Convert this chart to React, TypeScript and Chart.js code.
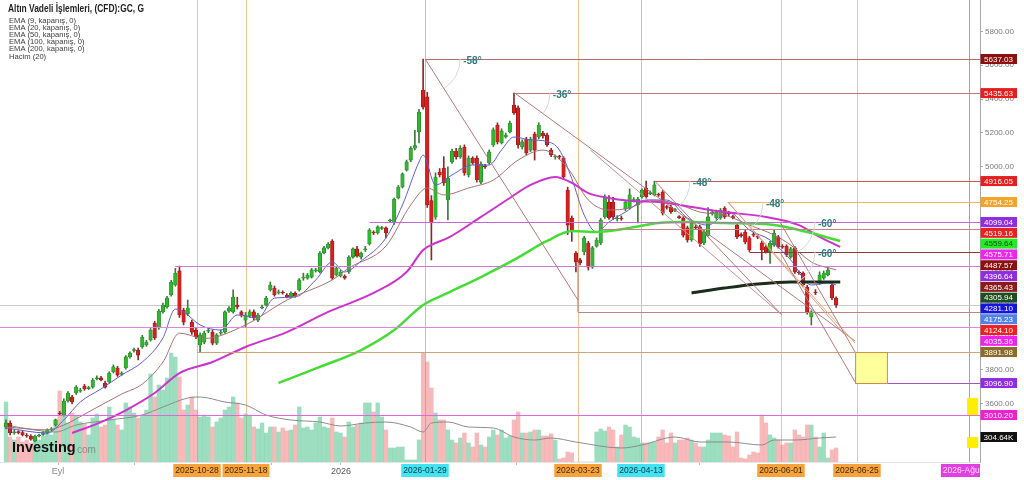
import React, { useEffect, useRef } from "react";
import { Chart, registerables } from "chart.js";
Chart.register(...registerables);

const FONT = '"Liberation Sans", Arial, sans-serif';

const TITLE = "Altın Vadeli İşlemleri, (CFD):GC, G";
const LEGEND_LINES = [
  "EMA (9, kapanış, 0)",
  "EMA (20, kapanış, 0)",
  "EMA (50, kapanış, 0)",
  "EMA (100, kapanış, 0)",
  "EMA (200, kapanış, 0)",
  "Hacim (20)",
];

// ---- daily candles (index 0 .. 201) ----
const opens = [
  3463,3487,3428,3434,3430,3416,3410,3381,3410,3420,
  3428,3446,3475,3546,3534,3617,3640,3664,3675,3705,
  3690,3699,3748,3753,3723,3729,3788,3812,3776,3812,
  3877,3915,3918,3936,3948,3977,4077,4048,4143,4172,
  4243,4302,4385,4154,4131,4083,4036,3948,3965,4030,
  4024,3959,4018,4024,4148,4143,4184,4143,4095,4119,
  4143,4095,4166,4184,4273,4284,4255,4258,4243,4231,
  4255,4273,4343,4343,4349,4385,4379,4491,4521,4562,
  4361,4355,4355,4379,4467,4515,4467,4509,4544,4615,
  4609,4636,4639,4680,4668,4816,4881,4981,5040,5110,
  5206,5454,5413,4800,4704,4969,4993,4804,5029,5093,
  5058,5117,4952,5052,5052,4910,5005,5023,5129,5247,
  5141,5176,5206,5365,5348,5117,5164,5099,5194,5176,
  5200,5188,5099,5058,5060,5052,4863,4698,4491,4450,
  4497,4550,4408,4532,4550,4704,4792,4792,4692,4698,
  4751,4757,4800,4775,4822,4875,4842,4834,4836,4851,
  4763,4763,4742,4706,4698,4639,4568,4645,4645,4550,
  4597,4727,4698,4698,4757,4730,4706,4656,4600,4615,
  4580,4600,4590,4550,4527,4497,4538,4586,4530,4532,
  4467,4521,4376,4373,4290,4113,4258,4314,4343,4361,
  4302,4225,
];
const highs = [
  3505,3500,3446,3442,3440,3425,3418,3416,3422,3436,
  3452,3460,3510,3555,3630,3672,3650,3708,3692,3715,
  3703,3750,3765,3762,3735,3790,3830,3822,3790,3885,
  3908,3930,3930,4005,3975,4045,4088,4158,4195,4235,
  4330,4400,4414,4165,4213,4095,4048,4020,4030,4048,
  4036,4015,4036,4150,4175,4273,4230,4150,4140,4155,
  4155,4135,4184,4235,4320,4296,4273,4268,4252,4262,
  4262,4340,4372,4370,4400,4400,4500,4530,4552,4570,
  4410,4388,4362,4475,4522,4530,4497,4530,4635,4622,
  4652,4648,4645,4692,4816,4890,4965,5040,5120,5215,
  5340,5637,5440,4830,4965,4990,5060,5000,5105,5110,
  5125,5130,5065,5060,5065,5030,5015,5100,5230,5260,
  5225,5200,5270,5435,5360,5160,5175,5175,5205,5260,
  5210,5200,5110,5070,5068,5060,4880,4710,4500,4460,
  4590,4560,4530,4580,4695,4835,4830,4820,4712,4710,
  4800,4870,4818,4820,4870,4916,4858,4916,4845,4860,
  4772,4772,4755,4712,4706,4650,4680,4655,4655,4625,
  4760,4740,4745,4754,4765,4738,4715,4665,4610,4625,
  4590,4612,4600,4560,4535,4560,4630,4595,4540,4540,
  4525,4530,4385,4380,4300,4150,4275,4380,4385,4410,
  4310,4232,
];
const lows = [
  3452,3416,3420,3422,3410,3402,3385,3375,3404,3414,
  3422,3440,3468,3532,3528,3610,3600,3655,3668,3680,
  3684,3692,3742,3735,3692,3722,3782,3762,3768,3805,
  3870,3905,3859,3928,3940,3970,3980,4040,4135,4165,
  4236,4295,4110,4066,4120,4010,3985,3905,3955,4020,
  3948,3950,4010,4018,4140,4135,4160,4113,4054,4110,
  4095,4085,4160,4178,4266,4236,4248,4248,4225,4225,
  4230,4266,4330,4336,4343,4378,4373,4485,4515,4335,
  4355,4349,4336,4370,4460,4467,4455,4500,4538,4600,
  4602,4630,4580,4675,4660,4810,4875,4975,5030,5100,
  5141,5340,4760,4450,4690,4940,4890,4686,5020,5045,
  5050,4950,4940,5015,4910,4900,4990,5015,5120,5135,
  5135,5170,5200,5310,5110,5105,5070,5090,5040,5165,
  5170,5120,5060,5045,5045,4930,4600,4560,4380,4420,
  4480,4390,4400,4525,4540,4695,4690,4690,4680,4684,
  4740,4750,4792,4668,4815,4815,4835,4828,4825,4715,
  4750,4725,4735,4695,4585,4555,4560,4632,4530,4540,
  4590,4715,4690,4690,4695,4712,4692,4575,4585,4545,
  4500,4588,4575,4450,4490,4430,4530,4520,4518,4470,
  4460,4370,4365,4295,4130,4066,4245,4305,4335,4355,
  4215,4170,
];
const closes = [
  3487,3428,3434,3430,3416,3410,3392,3410,3416,3428,
  3446,3452,3505,3540,3617,3664,3611,3699,3682,3688,
  3695,3741,3753,3741,3699,3782,3818,3770,3782,3877,
  3900,3918,3888,3995,3965,4036,3989,4148,4184,4225,
  4320,4373,4125,4083,4166,4024,3995,4007,4018,4036,
  3959,4007,4024,4143,4166,4231,4172,4125,4125,4143,
  4107,4125,4172,4225,4302,4243,4261,4255,4231,4255,
  4237,4332,4349,4361,4391,4391,4491,4521,4544,4343,
  4402,4379,4343,4467,4515,4473,4491,4515,4627,4609,
  4645,4639,4609,4686,4810,4881,4958,5029,5110,5125,
  5324,5353,4775,4668,4940,4952,4905,4934,5093,5058,
  5110,4964,5052,5023,4922,5017,5000,5088,5218,5147,
  5212,5188,5259,5318,5129,5147,5082,5164,5099,5247,
  5182,5129,5070,5060,5058,4940,4656,4627,4438,4432,
  4580,4408,4521,4568,4686,4822,4698,4704,4698,4692,
  4792,4834,4806,4810,4863,4822,4848,4893,4832,4727,
  4760,4733,4748,4700,4597,4568,4668,4640,4544,4615,
  4704,4730,4733,4745,4704,4722,4700,4586,4594,4556,
  4509,4597,4584,4509,4497,4550,4609,4527,4525,4479,
  4515,4379,4373,4302,4143,4143,4255,4361,4373,4391,
  4225,4184,
];
// volume, thousands of contracts
const volumes = [
  600,250,220,250,200,220,190,240,220,260,
  290,270,420,710,590,390,490,460,400,380,
  270,440,480,350,370,550,420,370,320,590,
  550,490,440,470,520,880,650,770,720,840,
  1090,1050,850,520,570,650,520,450,470,450,
  350,400,440,520,550,650,590,440,480,470,
  350,330,390,290,350,350,300,340,310,320,
  370,550,340,350,320,390,450,350,340,440,
  300,290,250,400,350,370,390,590,590,500,
  590,450,320,140,140,150,150,20,20,20,
  220,1090,1000,740,490,420,420,320,220,190,
  240,290,190,150,290,170,150,250,320,270,
  320,240,260,420,500,290,290,300,320,320,
  260,260,280,220,30,40,100,90,0,0,
  0,0,0,300,330,310,350,320,150,270,
  370,350,250,240,190,190,190,200,250,320,
  190,290,190,220,220,240,220,190,150,150,
  220,290,290,290,270,260,150,300,40,30,
  70,100,90,470,390,270,240,220,170,190,
  190,320,270,250,370,370,250,150,290,40,
  120,140,
];

// ---- indicator lines: [candle index, value] ----
const ema9 = [
  [0,3457],[10,3428],[14,3505],[18,3611],[23,3688],[28,3770],[33,3847],[38,3989],[41,4160],[43,4143],
  [47,4066],[52,4036],[56,4125],[61,4107],[65,4225],[70,4231],[75,4332],[79,4438],[82,4379],[86,4444],
  [92,4580],[96,4775],[100,5029],[101,5070],[104,4893],[108,4952],[113,5011],[117,5011],[120,5100],[123,5176],
  [127,5159],[131,5150],[134,5099],[137,4930],[140,4715],[143,4615],[146,4674],[150,4733],[155,4804],[160,4804],
  [165,4698],[170,4656],[175,4733],[180,4627],[185,4568],[190,4450],[195,4302],[199,4314],[201,4302],
];
const ema20 = [
  [0,3463],[10,3446],[14,3475],[20,3552],[28,3658],[33,3717],[38,3847],[42,4018],[48,3986],[58,4066],
  [68,4213],[79,4332],[83,4402],[92,4532],[98,4775],[102,4875],[106,4834],[112,4875],[118,4922],[124,5040],
  [130,5099],[136,4993],[141,4804],[146,4745],[151,4757],[156,4804],[162,4786],[168,4733],[174,4715],[180,4656],
  [186,4597],[190,4538],[195,4438],[201,4391],
];
const ema50 = [
  [16,3428],[23,3492],[29,3562],[36,3664],[42,3782],[50,3847],[58,3936],[68,4024],[78,4143],[89,4255],
  [97,4379],[101,4509],[104,4550],[107,4580],[115,4704],[122,4816],[127,4893],[133,4940],[137,4905],[141,4845],
  [146,4816],[152,4798],[158,4792],[166,4763],[174,4733],[184,4704],[192,4656],[197,4586],[202,4527],
];
const ema100 = [
  [66,3723],[76,3818],[86,3918],[94,4036],[101,4184],[107,4255],[115,4349],[123,4450],[131,4562],[137,4621],
  [143,4615],[151,4639],[158,4668],[166,4674],[174,4668],[186,4656],[194,4615],[202,4562],
];
const ema200 = [[166,4255],[174,4284],[182,4308],[190,4320],[202,4320]];
const volMA = [
  [0,370],[7,320],[12,300],[17,370],[25,420],[33,470],[38,550],[44,640],[47,650],[53,600],
  [58,570],[63,470],[69,420],[76,400],[81,360],[87,390],[92,400],[98,350],[101,300],[103,390],
  [107,400],[112,350],[118,340],[123,250],[128,220],[132,240],[138,200],[149,140],[154,170],[162,250],
  [168,200],[175,200],[183,170],[186,220],[191,220],[197,240],[201,250],
];

// ---- axis ----
const xTicks = [
  { i: 12.6, label: "Eyl" },
  { i: 31.2, label: "" },
  { i: 64.4, label: "" },
  { i: 81.1, label: "2026" },
  { i: 123.7, label: "" },
  { i: 167.8, label: "" },
];
const X_MIN = -1.453;
const X_MAX = 235.84;
const Y_MIN = 3256.5;
const Y_MAX = 5985.5;
const V_MAX = 4620;

// ---- drawings ----
const markers = [
  { i: 46.25, label: "2025-10-28", kind: "o" },
  { i: 58.1, label: "2025-11-18", kind: "o" },
  { i: 101.45, label: "2026-01-29", kind: "c" },
  { i: 138.5, label: "2026-03-23", kind: "o" },
  { i: 153.75, label: "2026-04-13", kind: "c" },
  { i: 187.65, label: "2026-06-01", kind: "o" },
  { i: 206.05, label: "2026-06-25", kind: "o" },
  { i: 233.2, label: "2026-Ağustos", kind: "m" },
];
const MARK_STYLE: any = {
  o: { line: "#f5c28d", box: "#f7a33a", text: "#3b2a12" },
  c: { line: "#78dcee", box: "#42e3f2", text: "#0d3a44" },
  m: { line: "#e07ce0", box: "#e23ee2", text: "#fbe3fb" },
};

const levels = [
  { price: 5637.03, from: 101.5, color: "#b96a6a", tag: "5637.03", bg: "#8b1111" },
  { price: 5435.63, from: 123.2, color: "#c77777", tag: "5435.63", bg: "#e61e1e" },
  { price: 4916.05, from: 157.1, color: "#c95858", tag: "4916.05", bg: "#e61e1e" },
  { price: 4792, from: 174.8, color: "#f2b46a", tag: "4754.25", bg: "#f4a42a" },
  { price: 4674, from: 88.1, color: "#c466d6", tag: "4099.04", bg: "#8e2de2" },
  { price: 4633, from: 143.8, color: "#c98282", tag: "4519.16", bg: "#e8201e" },
  { price: 4497, from: 180, color: "#8d3a3a", tag: "4487.57", bg: "#8b1111" },
  { price: 4414, from: 40.9, color: "#cf7ad2", tag: "4396.64", bg: "#8e2de2" },
  { price: 4143, from: 138.5, color: "#bb8585", tag: "4124.10", bg: "#ee2020" },
  { price: 4054, from: -2, color: "#df86df", tag: "4035.36", bg: "#ee22ee" },
  { price: 3906, from: 46.25, color: "#caa47a", tag: "3891.98", bg: "#8b6b2b" },
  { price: 3723, from: 205.6, color: "#9e55c4", tag: "3096.90", bg: "#8e2de2" },
  { price: 3534, from: -2, color: "#e265e2", tag: "3010.20", bg: "#ee22cc" },
];
const seriesTags = [
  { series: "ema100", tag: "4559.64", bg: "#25ea25", fg: "#124a12" },
  { series: "ema50", tag: "4575.71", bg: "#ee25ee", fg: "#ffffff" },
  { series: "ema20", tag: "4365.43", bg: "#8b1a1a", fg: "#ffffff" },
  { series: "ema200", tag: "4305.94", bg: "#1f4f1f", fg: "#ffffff" },
  { series: "ema9", tag: "4281.10", bg: "#1414dd", fg: "#ffffff" },
  { series: "close", tag: "4175.23", bg: "#5082e6", fg: "#ffffff" },
  { series: "volma", tag: "304.64K", bg: "#111111", fg: "#ffffff" },
];
const trends = [
  { a: [101.5, 5637.03], b: [138.5, 4213], color: "#b07a7a", angle: "-58°" },
  { a: [123.2, 5435.63], b: [205.6, 3971], color: "#b07a7a", angle: "-36°" },
  { a: [157.1, 4916.05], b: [187.9, 4125], color: "#b07a7a", angle: "-48°" },
  { a: [174.8, 4792], b: [205.6, 3959], color: "#f0a860", angle: "-48°" },
  { a: [187.4, 4674], b: [205.6, 3906], color: "#b07a7a", angle: "-60°" },
  { a: [187.4, 4497], b: [205.6, 3729], color: "#b07a7a", angle: "-60°" },
  { a: [141.5, 5099], b: [187.9, 4125], color: "#c39393", angle: "" },
  { a: [174.8, 4792], b: [203, 4010], color: "#d49a9a", angle: "" },
  { a: [138.5, 4450], b: [138.5, 4143], color: "#b07a7a", angle: "" },
];
const boxes = [
  { x1: 205.6, x2: 213.3, p1: 3906, p2: 3723, fill: "#ffff9c", stroke: "#c8904a" },
  { x1: 232.7, x2: 235.4, p1: 3635, p2: 3534, fill: "#ffee00", stroke: "" },
  { x1: 232.7, x2: 235.4, p1: 3404, p2: 3339, fill: "#ffee00", stroke: "" },
];

const UP = "#2fb82f";
const UP_EDGE = "#1f7d1f";
const DN = "#d62020";
const DN_EDGE = "#8a1010";
const VOL_UP = "rgba(90, 200, 148, 0.6)";
const VOL_DN = "rgba(240, 120, 120, 0.52)";

const lastOf = (arr: number[][]) => arr[arr.length - 1][1];
const SERIES_LAST: any = {
  ema9: lastOf(ema9),
  ema20: lastOf(ema20),
  ema50: lastOf(ema50),
  ema100: lastOf(ema100),
  ema200: lastOf(ema200),
  close: closes[closes.length - 1],
  volma: lastOf(volMA),
};

const overlay = {
  id: "overlay",
  beforeDatasetsDraw(chart: any) {
    const { ctx, chartArea: a, scales } = chart;
    const xs = scales.x;
    const ys = scales.y;
    ctx.save();
    ctx.beginPath();
    ctx.rect(a.left, a.top, a.right - a.left, a.bottom - a.top);
    ctx.clip();
    ctx.lineWidth = 1;
    markers.forEach((m) => {
      const x = Math.round(xs.getPixelForValue(m.i)) + 0.5;
      ctx.strokeStyle = MARK_STYLE[m.kind].line;
      ctx.beginPath();
      ctx.moveTo(x, a.top);
      ctx.lineTo(x, a.bottom);
      ctx.stroke();
    });
    const yl = Math.round(ys.getPixelForValue(SERIES_LAST.close)) + 0.5;
    ctx.strokeStyle = "#c9c9c9";
    ctx.beginPath();
    ctx.moveTo(a.left, yl);
    ctx.lineTo(a.right, yl);
    ctx.stroke();
    ctx.restore();
  },
  afterDatasetsDraw(chart: any) {
    const { ctx, chartArea: a, scales } = chart;
    const xs = scales.x;
    const ys = scales.y;
    ctx.save();
    ctx.beginPath();
    ctx.rect(a.left, a.top, a.right - a.left, a.bottom - a.top);
    ctx.clip();
    ctx.lineWidth = 1;
    levels.forEach((l) => {
      const y = Math.round(ys.getPixelForValue(l.price)) + 0.5;
      const x0 = xs.getPixelForValue(l.from);
      ctx.strokeStyle = l.color;
      ctx.beginPath();
      ctx.moveTo(Math.max(a.left, x0), y);
      ctx.lineTo(a.right, y);
      ctx.stroke();
    });
    boxes.forEach((b) => {
      const x1 = xs.getPixelForValue(b.x1);
      const x2 = xs.getPixelForValue(b.x2);
      const y1 = ys.getPixelForValue(b.p1);
      const y2 = ys.getPixelForValue(b.p2);
      ctx.fillStyle = b.fill;
      ctx.fillRect(x1, y1, x2 - x1, y2 - y1);
      if (b.stroke) {
        ctx.strokeStyle = b.stroke;
        ctx.strokeRect(x1 + 0.5, y1 + 0.5, x2 - x1, y2 - y1);
      }
    });
    trends.forEach((t) => {
      const x1 = xs.getPixelForValue(t.a[0]);
      const y1 = ys.getPixelForValue(t.a[1]);
      const x2 = xs.getPixelForValue(t.b[0]);
      const y2 = ys.getPixelForValue(t.b[1]);
      ctx.strokeStyle = t.color;
      ctx.lineWidth = 1;
      ctx.beginPath();
      ctx.moveTo(x1, y1);
      ctx.lineTo(x2, y2);
      ctx.stroke();
      if (t.angle) {
        const ang = Math.atan2(y2 - y1, x2 - x1);
        ctx.strokeStyle = "#d6d6d6";
        ctx.beginPath();
        ctx.arc(x1, y1, 35, 0, ang, false);
        ctx.stroke();
        ctx.fillStyle = "#2b7c7c";
        ctx.font = `bold 10px ${FONT}`;
        ctx.textAlign = "left";
        ctx.textBaseline = "middle";
        ctx.fillText(t.angle, x1 + 38, y1 + 2);
      }
    });
    ctx.restore();
  },
  afterDraw(chart: any) {
    const { ctx, chartArea: a, scales } = chart;
    const xs = scales.x;
    const ys = scales.y;
    const yv = scales.yv;
    ctx.save();
    const items: any[] = [];
    levels.forEach((l) =>
      items.push({ y: ys.getPixelForValue(l.price), text: l.tag, bg: l.bg, fg: "#ffffff" })
    );
    seriesTags.forEach((t) => {
      const sc = t.series === "volma" ? yv : ys;
      items.push({ y: sc.getPixelForValue(SERIES_LAST[t.series]), text: t.tag, bg: t.bg, fg: t.fg });
    });
    items.sort((p, q) => p.y - q.y);
    let prev = -1e9;
    ctx.font = `8px ${FONT}`;
    ctx.textAlign = "center";
    ctx.textBaseline = "middle";
    items.forEach((it) => {
      const y = Math.max(it.y, prev + 10.8);
      prev = y;
      ctx.fillStyle = it.bg;
      ctx.fillRect(a.right + 0.5, y - 5, 36.5, 10);
      ctx.fillStyle = it.fg;
      ctx.fillText(it.text, a.right + 18.5, y + 0.5);
    });
    ctx.save();
    ctx.beginPath();
    ctx.rect(0, a.bottom, a.right, 30);
    ctx.clip();
    ctx.font = `8.5px ${FONT}`;
    markers.forEach((m) => {
      const x = xs.getPixelForValue(m.i);
      const w = ctx.measureText(m.label).width + 4;
      const st = MARK_STYLE[m.kind];
      ctx.fillStyle = st.box;
      ctx.fillRect(x - w / 2, a.bottom + 2, w, 13);
      ctx.fillStyle = st.text;
      ctx.fillText(m.label, x, a.bottom + 9);
    });
    ctx.restore();
    ctx.textAlign = "left";
    ctx.textBaseline = "middle";
    ctx.fillStyle = "#1e1e1e";
    ctx.font = `bold 10px ${FONT}`;
    ctx.fillText(TITLE, 8, 9, 136);
    ctx.fillStyle = "#3a3a3a";
    ctx.font = `7.6px ${FONT}`;
    LEGEND_LINES.forEach((s, k) => ctx.fillText(s, 9, 21 + k * 7.1));
    ctx.textBaseline = "alphabetic";
    ctx.fillStyle = "#111111";
    ctx.font = `bold 14.5px ${FONT}`;
    ctx.fillText("Investing", 12, 452);
    ctx.fillStyle = "#8a8a8a";
    ctx.font = `10px ${FONT}`;
    ctx.fillText("com", 77, 453);
    ctx.restore();
  },
};

const pairs = (arr: number[][]) => arr.map(([x, y]) => ({ x, y }));

export default function App() {
  const ref = useRef<HTMLCanvasElement>(null);
  useEffect(() => {
    document.body.style.margin = "0";
    const canvas = ref.current;
    if (!canvas) return;
    Chart.defaults.font.family = FONT;
    const isUp = closes.map((c, i) => c >= opens[i]);
    const lineDs = (label: string, data: number[][], color: string, width: number, order: number, axis = "y") => ({
      type: "line" as const,
      label,
      data: pairs(data),
      borderColor: color,
      borderWidth: width,
      pointRadius: 0,
      fill: false,
      cubicInterpolationMode: "monotone" as const,
      yAxisID: axis,
      order,
    });
    const chart = new Chart(canvas, {
      type: "bar",
      data: {
        datasets: [
          lineDs("EMA 200", ema200, "#1d2d1d", 3, 1),
          lineDs("EMA 100", ema100, "#46dc36", 2.5, 1),
          lineDs("EMA 50", ema50, "#cc33cc", 2, 1),
          lineDs("EMA 20", ema20, "#a87070", 1, 2),
          lineDs("EMA 9", ema9, "#5d5dd4", 1, 2),
          {
            type: "bar" as const,
            label: "Gövde",
            data: opens.map((o, i) => ({ x: i, y: [o, closes[i]] })) as any,
            backgroundColor: isUp.map((u) => (u ? UP : DN)),
            borderColor: isUp.map((u) => (u ? UP_EDGE : DN_EDGE)),
            borderWidth: 0.6,
            borderSkipped: false,
            barThickness: 3.5,
            minBarLength: 1,
            grouped: false,
            yAxisID: "y",
            order: 4,
          },
          {
            type: "bar" as const,
            label: "Fitil",
            data: lows.map((l, i) => ({ x: i, y: [l, highs[i]] })) as any,
            backgroundColor: isUp.map((u) => (u ? "#3c7a3c" : "#8a2a2a")),
            borderWidth: 0,
            barThickness: 1,
            grouped: false,
            yAxisID: "y",
            order: 5,
          },
          lineDs("Hacim MA", volMA, "#8c8c8c", 1, 8, "yv"),
          {
            type: "bar" as const,
            label: "Hacim",
            data: volumes.map((v, i) => ({ x: i, y: v })) as any,
            backgroundColor: isUp.map((u) => (u ? VOL_UP : VOL_DN)),
            borderWidth: 0,
            barThickness: 3.7,
            grouped: false,
            yAxisID: "yv",
            order: 10,
          },
        ],
      },
      options: {
        responsive: false,
        animation: false,
        devicePixelRatio: 1,
        events: [],
        layout: { padding: 0 },
        plugins: { legend: { display: false }, tooltip: { enabled: false }, title: { display: false } },
        scales: {
          x: {
            type: "linear",
            min: X_MIN,
            max: X_MAX,
            offset: false,
            afterBuildTicks: (s: any) => {
              s.ticks = xTicks.map((t) => ({ value: t.i }));
            },
            afterFit: (s: any) => {
              s.height = 18;
              s.paddingLeft = 0;
              s.paddingRight = 0;
            },
            ticks: {
              autoSkip: false,
              maxRotation: 0,
              padding: 1,
              font: { size: 9 },
              color: (c: any) => (c.tick && c.tick.value === 81.1 ? "#555" : "#8a8a8a"),
              callback: (v: any) => {
                const t = xTicks.find((q) => Math.abs(q.i - v) < 0.01);
                return t ? t.label : "";
              },
            },
            grid: { display: true, drawOnChartArea: false, drawTicks: true, tickLength: 3, color: "#bbbbbb", offset: false },
            border: { display: true, color: "#e6e6e6" },
          },
          y: {
            type: "linear",
            position: "right",
            min: Y_MIN,
            max: Y_MAX,
            afterFit: (s: any) => {
              s.width = 44;
              s.paddingTop = 0;
              s.paddingBottom = 0;
            },
            ticks: {
              stepSize: 200,
              includeBounds: false,
              padding: 2,
              font: { size: 8 },
              color: "#7a7a7a",
              callback: (v: any) => Number(v).toFixed(2),
            },
            grid: { display: true, drawOnChartArea: false, drawTicks: true, tickLength: 3, color: "#aaaaaa" },
            border: { display: true, color: "#a8a8a8" },
          },
          yv: {
            type: "linear",
            display: false,
            min: 0,
            max: V_MAX,
          },
        },
      },
      plugins: [overlay],
    } as any);
    return () => chart.destroy();
  }, []);
  return (
    <canvas
      ref={ref}
      width={1024}
      height={480}
      style={{ display: "block", width: 1024, height: 480 }}
    />
  );
}
